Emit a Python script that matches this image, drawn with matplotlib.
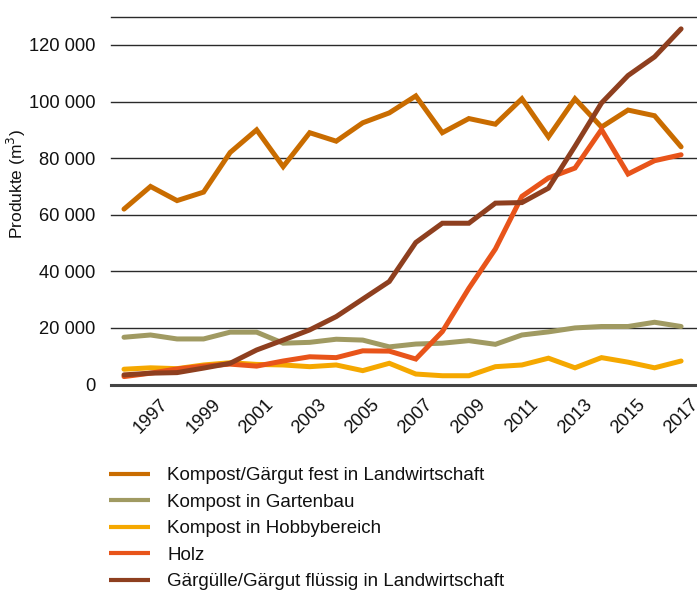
import matplotlib
matplotlib.use("Agg")
import matplotlib.pyplot as plt
from matplotlib.ticker import FuncFormatter

plt.rcParams['font.family'] = ['Liberation Sans', 'DejaVu Sans']

years = list(range(1996, 2018))

fest_landwirtschaft = [62000, 70000, 65000, 68000, 82000, 90000, 77000, 89000, 86000, 92500, 96000,
                       102000, 89000, 94000, 92000, 101000, 87500, 101000, 91000, 97000, 95000, 84000]
gartenbau = [16700, 17500, 16100, 16100, 18500, 18500, 14600, 14900, 16000, 15700, 13300,
             14300, 14600, 15500, 14200, 17500, 18600, 20000, 20500, 20500, 22000, 20500]
hobbybereich = [5400, 5900, 5600, 6900, 7700, 7100, 6900, 6300, 6900, 4900, 7500,
                3700, 3100, 3100, 6300, 6900, 9300, 5900, 9500, 7900, 5900, 8300]
holz = [2800, 4000, 5500, 6500, 7200, 6500, 8300, 9800, 9500, 11900, 11800,
        9000, 18700, 34000, 47900, 66500, 73000, 76500, 90100, 74400, 79100, 81200]
fluessig_landwirtschaft = [3400, 4000, 4200, 5800, 7500, 12200, 15700, 19300, 24000, 30200, 36400,
                           50200, 57000, 57000, 64100, 64300, 69400, 84200, 99500, 109200, 115800, 125700]

labels = ["Kompost/Gärgut fest in Landwirtschaft",
          "Kompost in Gartenbau",
          "Kompost in Hobbybereich",
          "Holz",
          "Gärgülle/Gärgut flüssig in Landwirtschaft"]
colors = ["#C96C00", "#A09A62", "#F5A800", "#E8541A", "#8E3F1F"]
series = [fest_landwirtschaft, gartenbau, hobbybereich, holz, fluessig_landwirtschaft]
yticks = [0, 20000, 40000, 60000, 80000, 100000, 120000]
xticks = list(range(1997, 2018, 2))

fig = plt.figure(figsize=(6.97, 5.92), dpi=100)
ax = fig.add_axes([111/697, 1 - 384.5/592, 1 - 111/697, (384.5 - 16.7)/592])

for y in [20000, 40000, 60000, 80000, 100000, 120000, 130000]:
    ax.axhline(y, color="#2a2a2a", lw=1.0, zorder=1, clip_on=False)
ax.axhline(0, color="#444444", lw=2.2, zorder=1, clip_on=False)

for s, c, l in zip(series, colors, labels):
    ax.plot(years, s, color=c, lw=3.6, label=l, solid_capstyle='round', solid_joinstyle='miter', zorder=3)

ax.set_xlim(1995.51, 2017.60)
ax.set_ylim(0, 130000)
ax.set_yticks(yticks)
ax.yaxis.set_major_formatter(FuncFormatter(lambda v, p: f"{int(v):,}".replace(",", " ")))
ax.set_xticks(xticks)
ax.set_xticklabels([str(x) for x in xticks], rotation=45, ha='center')
ax.tick_params(axis='both', length=0, labelsize=13.2, colors="#111111")
ax.tick_params(axis='x', pad=8)
ax.tick_params(axis='y', pad=11)
for sp in ax.spines.values():
    sp.set_visible(False)
ax.set_ylabel("Produkte (m$^3$)", fontsize=12.5, color="#111111", labelpad=1, y=0.545)

handles, lbls = ax.get_legend_handles_labels()
leg = fig.legend(handles, lbls, loc='upper left', bbox_to_anchor=(109/697, 1 - 467/592),
                 frameon=False, fontsize=13.5, handlelength=2.2, handletextpad=0.9,
                 labelspacing=0.5, borderpad=0, borderaxespad=0)
for h in leg.get_lines():
    h.set_linewidth(3.0)
    h.set_solid_capstyle('butt')
for t in leg.get_texts():
    t.set_color("#111111")

fig.savefig("out.png", dpi=100)
